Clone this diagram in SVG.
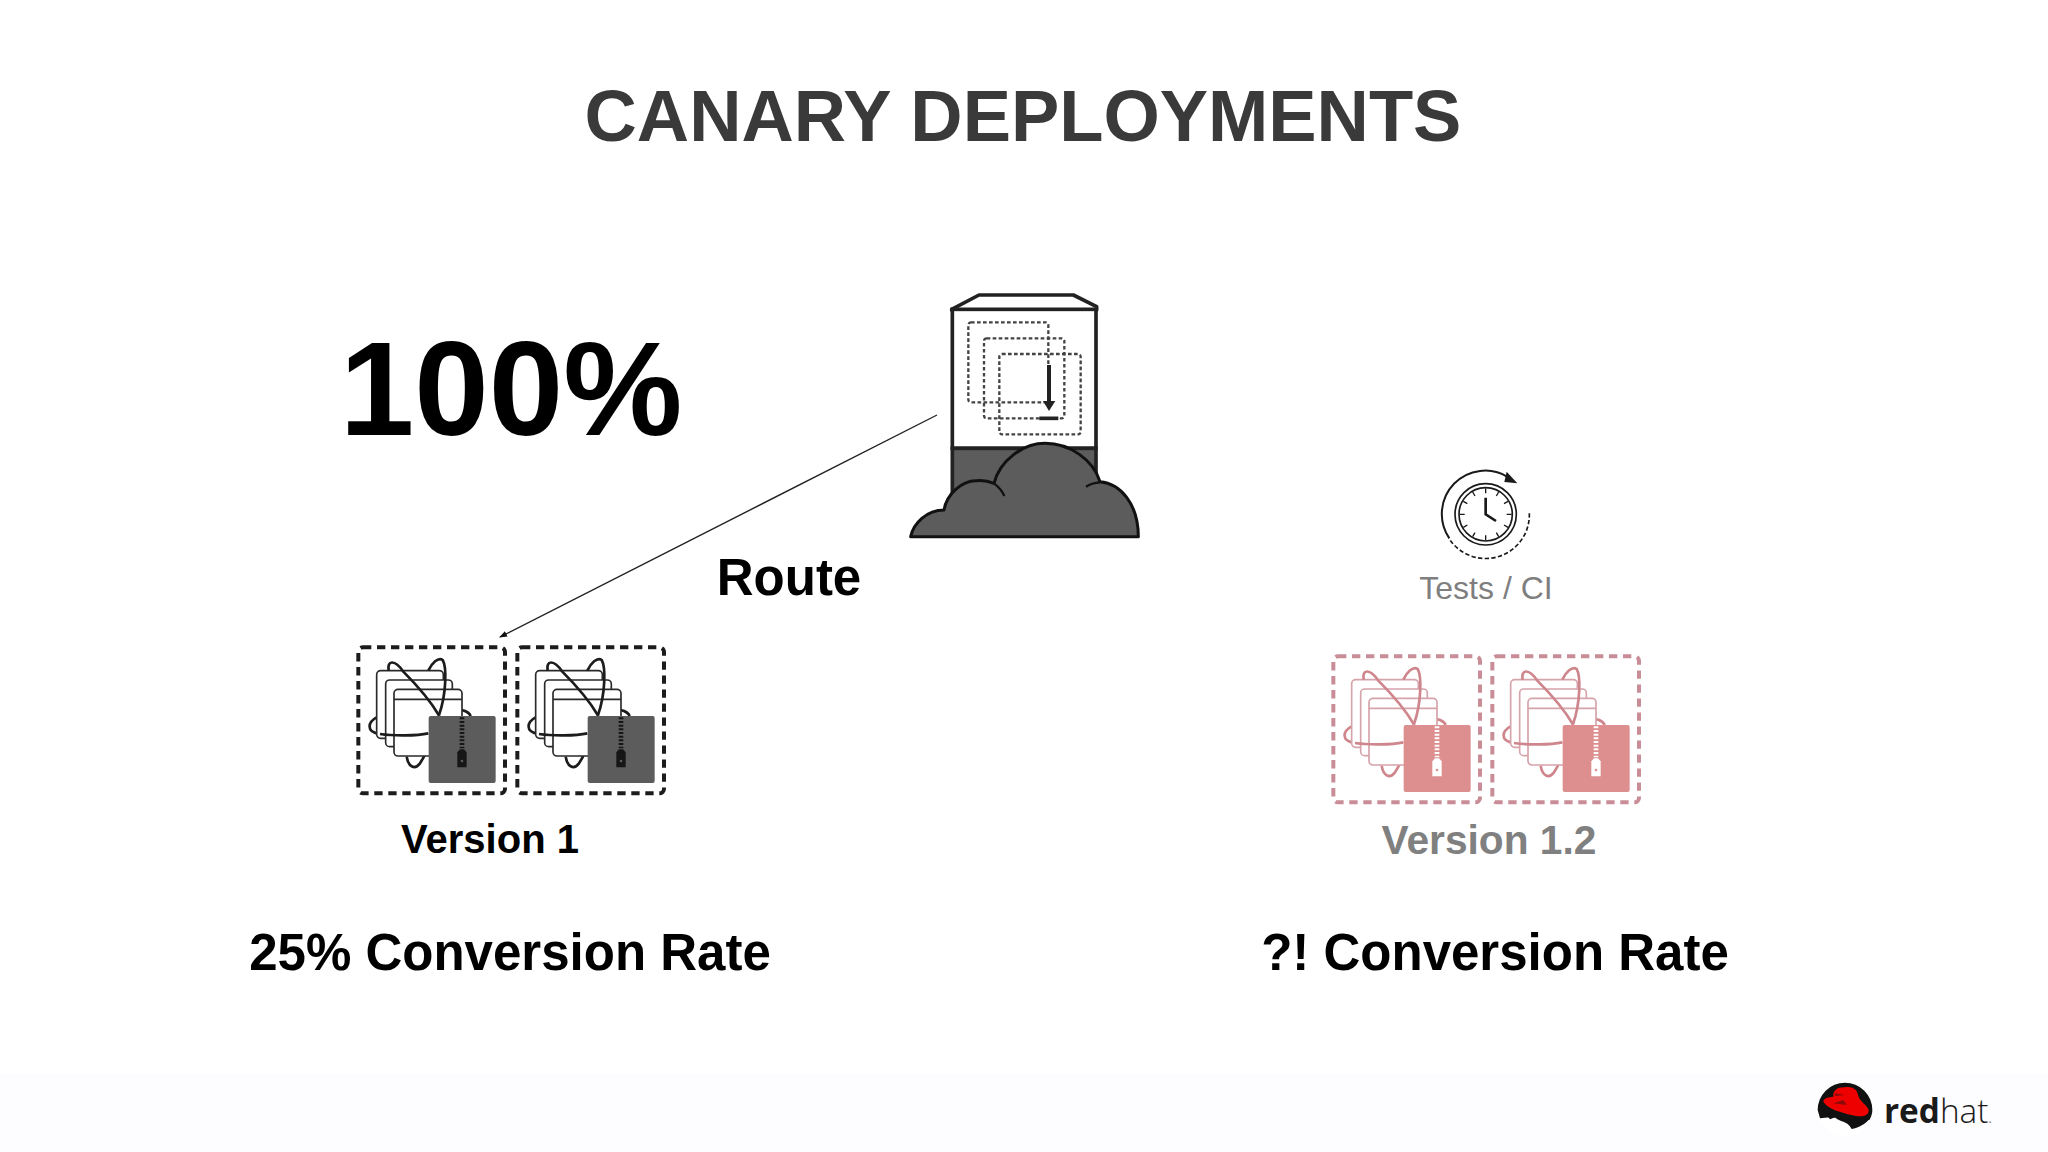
<svg xmlns="http://www.w3.org/2000/svg" xmlns:xlink="http://www.w3.org/1999/xlink" width="2048" height="1152" viewBox="0 0 2048 1152">
<style>
text{font-family:"Liberation Sans",Arial,sans-serif;font-weight:700}
.art{color:#1c1c1c;--z:#5c5c5c;--t:#161616;--p:#2a2a2a;--o:#1c1c1c}
.art.pink{color:#c98d97;--z:#dd8f8f;--t:#ffffff;--p:#d5a3aa;--o:#cf858c}
.box{fill:none;stroke:currentColor;stroke-width:12;stroke-dasharray:25 17}
.page{fill:#fff;stroke:var(--p);stroke-width:5}
.orb{fill:none;stroke:var(--o);stroke-width:8}
</style>
<defs>
<marker id="ah" markerWidth="8" markerHeight="8" refX="7" refY="3" orient="auto" markerUnits="userSpaceOnUse"><path d="M0 0L8 3L0 6Z" fill="#111"/></marker>
<g id="artifact">
<rect class="box" x="55" y="52" width="440" height="438" rx="14"/>
<path class="orb" d="M110 262C85 275 75 305 120 312"/>
<path class="orb" d="M365 240C380 243 390 252 392 258"/>
<rect class="page" x="110" y="122" width="200" height="203" rx="12"/>
<rect class="page" x="137" y="150" width="200" height="200" rx="12"/>
<path class="orb" d="M200 380C205 412 225 420 240 400C250 385 260 365 267 340"/>
<rect class="page" x="162" y="178" width="204" height="200" rx="12"/>
<path class="page" fill="none" d="M162 208H366"/>
<path class="orb" d="M120 312C160 318 230 318 265 310"/>
<path class="orb" d="M146 122C140 90 165 88 190 125C235 170 270 210 298 258"/>
<path class="orb" d="M265 122C275 100 295 80 308 90C320 110 320 190 297 255"/>
<rect x="266" y="258" width="201" height="201" rx="6" style="fill:var(--z)"/>
<path d="M366 262V355" fill="none" stroke-width="14" stroke-dasharray="6 5" style="stroke:var(--t)"/>
<path d="M352 367L360 358H372L380 367V412H352Z" style="fill:var(--t)"/>
<circle cx="366" cy="393" r="4" style="fill:var(--z)"/>
</g>
</defs>
<rect width="2048" height="1152" fill="#fff"/>
<rect y="1074" width="2048" height="78" fill="#fdfcfe"/>
<text x="1023" y="140.5" text-anchor="middle" font-size="72.4" fill="#3a3a3a">CANARY DEPLOYMENTS</text>
<text id="pct" x="511" y="435" text-anchor="middle" font-size="134" fill="#000">100%</text>
<g id="connectors">
<path d="M937 415L500 637" fill="none" stroke="#222" stroke-width="1.4" marker-end="url(#ah)"/>
</g>
<text x="789" y="595" text-anchor="middle" font-size="51" fill="#000">Route</text>
<g id="registry" transform="translate(880 270) scale(.33333)">
<path d="M215 118L297 75H580L650 110V120H215Z" fill="#fff" stroke="#222" stroke-width="11" stroke-linejoin="round"/>
<rect x="217" y="118" width="431" height="417" fill="#fff" stroke="#222" stroke-width="11"/>
<rect x="217" y="535" width="431" height="180" fill="#5c5c5c" stroke="#222" stroke-width="11"/>
<g fill="none" stroke="#444" stroke-width="7" stroke-dasharray="11 7">
<rect x="265" y="157" width="240" height="240" rx="8"/>
<rect x="312" y="205" width="241" height="240" rx="8"/>
<rect x="358" y="252" width="244" height="241" rx="8"/>
</g>
<path d="M507 285V398" stroke="#222" stroke-width="12" fill="none"/>
<path d="M489 393H526L507 423Z" fill="#222"/>
<path d="M478 445H535" stroke="#222" stroke-width="11" fill="none"/>
<path d="M92 800C100 760 140 720 192 720C200 670 250 630 290 632C310 630 330 635 342 640C360 570 430 520 495 520C570 520 640 570 660 635C720 640 775 700 775 800Z" fill="#5c5c5c" stroke="#111" stroke-width="9" stroke-linejoin="round"/>
<path d="M342 640C355 650 368 665 373 678M618 650C630 642 645 638 660 637" fill="none" stroke="#111" stroke-width="7"/>
</g>
<g id="v1a" class="art" transform="translate(340 630) scale(.33333)"><use xlink:href="#artifact" href="#artifact"/></g>
<g id="v1b" class="art" transform="translate(499 630) scale(.33333)"><use xlink:href="#artifact" href="#artifact"/></g>
<text x="490" y="853" text-anchor="middle" font-size="40" fill="#000">Version 1</text>
<text x="510" y="970" text-anchor="middle" font-size="51" fill="#000">25% Conversion Rate</text>
<g id="clock" transform="translate(1320 460) scale(.33333)" fill="none" stroke="#1a1a1a">
<circle cx="497" cy="163" r="92" stroke-width="5"/>
<circle cx="497" cy="163" r="80" stroke-width="5"/>
<path d="M497 85V100M497 226V241M419 163H434M560 163H575M458 96L465 108M536 96L529 108M458 230L465 218M536 230L529 218M430 124L442 131M564 124L552 131M430 202L442 195M564 202L552 195" stroke-width="4"/>
<path d="M497 113V163L528 183" stroke-width="8"/>
<path d="M388 235A130 130 0 0 1 565 52" stroke-width="6"/>
<path d="M560 35L592 70L553 66Z" fill="#1a1a1a" stroke="none"/>
<path d="M628 160A131 131 0 0 1 390 240" stroke-width="5" stroke-dasharray="13 7"/>
</g>
<text x="1486" y="599" text-anchor="middle" font-size="32" style="font-weight:400" fill="#7f7f7f">Tests / CI</text>
<g id="v2a" class="art pink" transform="translate(1315 639) scale(.33333)"><use xlink:href="#artifact" href="#artifact"/></g>
<g id="v2b" class="art pink" transform="translate(1474 639) scale(.33333)"><use xlink:href="#artifact" href="#artifact"/></g>
<text x="1489" y="854" text-anchor="middle" font-size="40.7" fill="#808080">Version 1.2</text>
<text x="1495" y="970" text-anchor="middle" font-size="51" fill="#000">?! Conversion Rate</text>
<g id="logo" transform="translate(1780 1060) scale(.33333)">
<circle cx="195" cy="148" r="82" fill="#fff"/>
<path d="M113 150A82 82 0 1 1 277 150C277 160 274 170 268 180L150 172L120 175Z" fill="#111"/>
<path d="M135 160L150 178L165 172C180 188 200 180 215 207C235 205 255 192 268 178L240 165L150 150Z" fill="#111"/>
<path d="M160 110C158 90 175 80 195 82C215 78 232 88 234 105C238 125 262 135 266 150C268 170 240 172 215 165C185 158 145 148 130 125C132 112 145 112 160 110Z" fill="#ee0000"/>
<path d="M165 100L195 105L165 108ZM160 130L200 135L190 120Z" fill="#8a0a0a"/>
<text x="312" y="190" font-size="100" style="font-family:'Open Sans',sans-serif;font-weight:700" fill="#1a1a1a">red<tspan style="font-weight:300">hat</tspan><tspan font-size="30" fill="#888">.</tspan></text>
</g>
</svg>
